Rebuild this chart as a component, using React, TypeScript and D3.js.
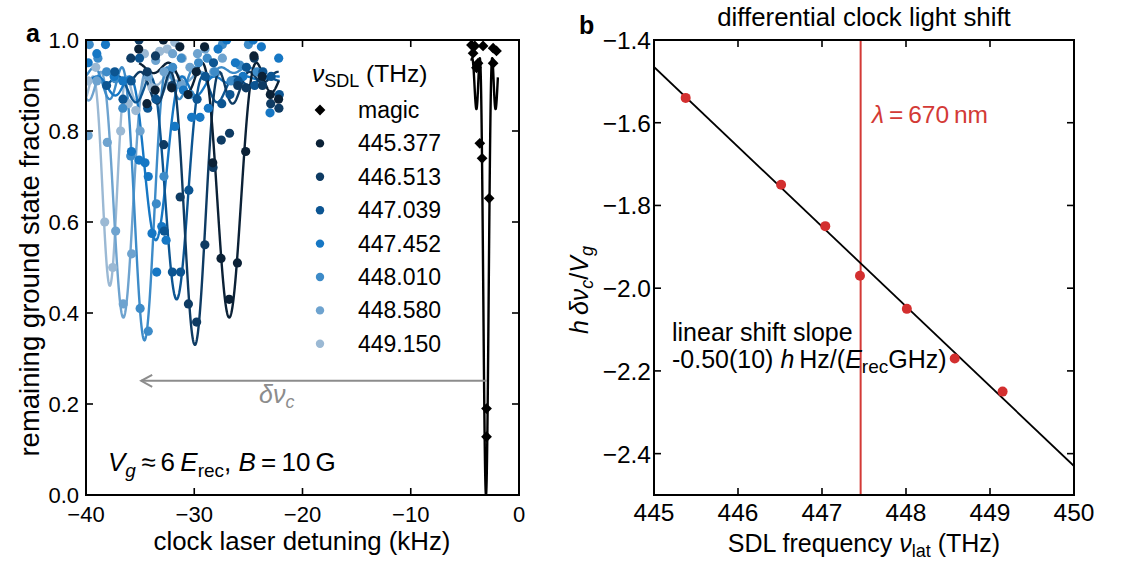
import React from "react";
import * as d3 from "d3";

const FONT = "'Liberation Sans', Arial, Helvetica, sans-serif";

// ---------- Panel a data ----------
const sdlLabels = ["445.377", "446.513", "447.039", "447.452", "448.010", "448.580", "449.150"];
const seriesColors = ["#0b2136", "#0e3b63", "#0c5592", "#1677c4", "#3d8bc8", "#6ea3cf", "#9bb9d4"];

// Rabi fit parameters
const fitCenters = [-26.77, -29.94, -31.63, -33.55, -34.6, -36.55, -37.8];
const fitOmegas = [1.45, 1.3, 1.4, 1.4, 1.2, 1.2, 0.9];
const fitOffsets = [0.95, 0.93, 0.92, 0.92, 0.94, 0.93, 0.92];
const fitAmps = [0.56, 0.6, 0.49, 0.36, 0.6, 0.54, 0.46];
const fitRanges = [
  [-35.1, -22.2],
  [-35.9, -22.2],
  [-38.1, -22.1],
  [-40, -22.1],
  [-40, -24.2],
  [-40, -27.4],
  [-40, -30.8],
];

const s1x = [-35.13, -34.37, -33.61, -32.85, -32.09, -31.33, -30.57, -29.81, -29.05, -28.29, -27.53, -26.77, -26.01, -25.25, -24.49, -23.73, -22.97, -22.21];
const s1y = [0.98, 0.86, 0.89, 1.0, 0.895, 0.985, 0.88, 0.93, 0.985, 0.73, 0.52, 0.43, 0.51, 0.755, 0.965, 0.92, 0.88, 0.87];
const s2x = [-35.86, -35.1, -34.34, -33.58, -32.82, -32.06, -31.3, -30.54, -29.78, -29.02, -28.26, -27.5, -26.74, -25.98, -25.22, -24.46, -23.7, -22.94, -22.18];
const s2y = [0.96, 1.0, 0.93, 0.965, 0.77, 0.9, 0.655, 0.42, 0.38, 0.55, 0.72, 0.78, 0.795, 0.9, 0.895, 0.96, 0.9, 0.86, 0.85];
const s3x = [-38.1, -37.34, -36.58, -35.82, -35.06, -34.3, -33.54, -32.78, -32.02, -31.26, -30.5, -29.74, -28.98, -28.22, -27.46, -26.7, -25.94, -25.18, -24.42, -23.66, -22.9, -22.14];
const s3y = [0.9, 0.93, 0.87, 0.91, 0.96, 0.85, 0.87, 0.58, 0.49, 0.49, 0.67, 0.87, 0.92, 0.95, 0.86, 0.88, 0.91, 0.94, 0.9, 0.93, 0.92, 0.88];
const s4x = [-39.8, -39.0, -38.2, -37.4, -36.6, -35.8, -35.1, -34.55, -34.25, -33.9, -33.47, -33.0, -32.6, -31.8, -31.0, -30.24, -29.47, -28.7, -27.8, -27.0, -26.2, -25.5, -24.55, -23.8, -23.0, -22.2];
const s4y = [0.95, 0.97, 0.99, 0.92, 0.91, 0.755, 0.736, 0.73, 0.7, 0.575, 0.49, 0.59, 0.56, 0.81, 0.89, 0.83, 0.83, 0.85, 0.98, 1.0, 0.95, 0.92, 1.0, 0.985, 0.84, 0.96];
const s5x = [-39.7, -38.9, -38.1, -37.3, -36.6, -35.87, -35.0, -34.25, -33.5, -32.8, -32.0, -31.2, -30.4, -29.6, -28.8, -28.1, -27.4, -26.6, -25.8, -25.0, -24.2];
const s5y = [0.99, 0.96, 0.93, 0.915, 0.85, 0.745, 0.41, 0.36, 0.64, 0.7, 0.94, 0.96, 0.88, 0.95, 0.96, 0.93, 0.99, 0.91, 0.945, 0.99, 0.93];
const s6x = [-39.8, -39.0, -38.03, -37.26, -36.56, -35.78, -35.0, -34.25, -33.56, -32.8, -32.0, -31.2, -30.4, -29.7, -29.0, -28.2, -27.4];
const s6y = [0.79, 0.91, 0.775, 0.58, 0.42, 0.53, 0.8, 0.92, 0.955, 0.93, 0.97, 0.9, 0.94, 0.97, 0.98, 0.93, 0.96];
const s7x = [-39.8, -39.1, -38.27, -37.53, -36.8, -36.1, -35.4, -34.6, -33.9, -33.2, -32.5, -31.8, -31.1];
const s7y = [0.91, 0.94, 0.6, 0.5, 0.8, 0.86, 0.845, 0.97, 0.895, 0.975, 0.98, 0.995, 0.96];

const seriesX = [s1x, s2x, s3x, s4x, s5x, s6x, s7x];
const seriesY = [s1y, s2y, s3y, s4y, s5y, s6y, s7y];

const magicX = [-4.39, -4.24, -4.08, -3.93, -3.78, -3.62, -3.41, -3.32, -3.0, -3.0, -2.76, -2.39, -2.39, -2.08];
const magicY = [0.989, 0.971, 0.987, 0.939, 0.949, 0.773, 0.74, 0.987, 0.19, 0.128, 0.652, 0.949, 0.982, 0.976];
const magicFit = { center: -3.05, omega: 0.33, offset: 0.96, amp: 0.96, range: [-4.4, -1.95] };

const arrowFrom = [-2.97, 0.251];
const arrowTo = [-34.9, 0.251];

const xTicksA = [-40, -30, -20, -10, 0];
const xTickLabelsA = ["\u221240", "\u221230", "\u221220", "\u221210", "0"];
const yTicksA = [0, 0.2, 0.4, 0.6, 0.8, 1.0];
const yTickLabelsA = ["0.0", "0.2", "0.4", "0.6", "0.8", "1.0"];

// ---------- Panel b data ----------
const sdlFreq = [445.377, 446.513, 447.039, 447.452, 448.01, 448.58, 449.15];
const shiftVals = [-1.54, -1.75, -1.85, -1.97, -2.05, -2.17, -2.25];
const fitLine = [
  [445, -1.465],
  [450, -2.43],
];
const lambda670 = 447.46;
const xTicksB = [445, 446, 447, 448, 449, 450];
const yTicksB = [-1.4, -1.6, -1.8, -2.0, -2.2, -2.4];
const yTickLabelsB = ["\u22121.4", "\u22121.6", "\u22121.8", "\u22122.0", "\u22122.2", "\u22122.4"];

function rabi(x: number, c: number, om: number, off: number, amp: number) {
  const u = (x - c) / om;
  const s = Math.sqrt(1 + u * u);
  const v = Math.sin((Math.PI / 2) * s);
  return off - (amp * v * v) / (s * s);
}

function sample(lo: number, hi: number, n: number) {
  return d3.range(n + 1).map((i) => lo + ((hi - lo) * i) / n);
}

export default function App() {
  const xA = d3.scaleLinear().domain([-40, 0]).range([86, 519]);
  const yA = d3.scaleLinear().domain([0, 1]).range([495, 40]);
  const xB = d3.scaleLinear().domain([445, 450]).range([654, 1074]);
  const yB = d3.scaleLinear().domain([-2.5, -1.4]).range([495, 40]);

  const lineA = d3
    .line<[number, number]>()
    .x((d) => xA(d[0]))
    .y((d) => yA(d[1]));
  const lineB = d3
    .line<number[]>()
    .x((d) => xB(d[0]))
    .y((d) => yB(d[1]));

  const curves = fitCenters.map((c, i) => {
    const [lo, hi] = fitRanges[i];
    const pts = sample(lo, hi, 500).map((x) => [x, rabi(x, c, fitOmegas[i], fitOffsets[i], fitAmps[i])] as [number, number]);
    return lineA(pts) as string;
  });
  const magicCurve = lineA(
    sample(magicFit.range[0], magicFit.range[1], 1200).map(
      (x) => [x, rabi(x, magicFit.center, magicFit.omega, magicFit.offset, magicFit.amp)] as [number, number]
    )
  ) as string;

  const diamond = d3.symbol().type(d3.symbolSquare).size(58)() as string;

  const tickLen = 7;
  const [ax0, ax1] = xA.range();
  const [ay1, ay0] = yA.range();
  const [bx0, bx1] = xB.range();
  const [by1, by0] = yB.range();

  const legendY = (i: number) => 110 + 33.4 * i;

  return (
    <svg width={1121} height={563} style={{ position: "absolute", left: 0, top: 0, background: "#fff" }} fontFamily={FONT}>
      <defs>
        <clipPath id="clipA">
          <rect x={ax0} y={ay0} width={ax1 - ax0} height={ay1 - ay0} />
        </clipPath>
        <clipPath id="clipB">
          <rect x={bx0} y={by0} width={bx1 - bx0} height={by1 - by0} />
        </clipPath>
      </defs>
      <rect x={0} y={0} width={1121} height={563} fill="#fff" />

      {/* ===== Panel a ===== */}
      <g clipPath="url(#clipA)">
        {curves
          .map((d, i) => ({ d, i }))
          .reverse()
          .map(({ d, i }) => (
            <path key={"c" + i} d={d} fill="none" stroke={seriesColors[i]} strokeWidth={2.4} />
          ))}
        {seriesX
          .map((xs, i) => ({ xs, i }))
          .reverse()
          .map(({ xs, i }) =>
            xs.map((x, j) => (
              <circle key={"p" + i + "-" + j} cx={xA(x)} cy={yA(seriesY[i][j])} r={4.6} fill={seriesColors[i]} />
            ))
          )}
        <path d={magicCurve} fill="none" stroke="#000" strokeWidth={2.4} />
        {magicX.map((x, j) => (
          <path key={"m" + j} d={diamond} transform={`translate(${xA(x)},${yA(magicY[j])}) rotate(45)`} fill="#000" />
        ))}
      </g>

      {/* arrow */}
      <line x1={xA(arrowFrom[0])} y1={yA(arrowFrom[1])} x2={xA(arrowTo[0])} y2={yA(arrowTo[1])} stroke="#8c8c8c" strokeWidth={2} />
      <polyline
        points={`${xA(arrowTo[0]) + 11},${yA(arrowTo[1]) - 6} ${xA(arrowTo[0])},${yA(arrowTo[1])} ${xA(arrowTo[0]) + 11},${yA(arrowTo[1]) + 6}`}
        fill="none"
        stroke="#8c8c8c"
        strokeWidth={2}
      />
      <text x={259} y={403} fontSize={25} fill="#8c8c8c" fontStyle="italic">
        δν<tspan fontSize={18} dy={5}>c</tspan>
      </text>

      {/* frame a */}
      <rect x={ax0} y={ay0} width={ax1 - ax0} height={ay1 - ay0} fill="none" stroke="#000" strokeWidth={2} />
      {xTicksA.map((t, i) => (
        <g key={"xta" + i}>
          <line x1={xA(t)} x2={xA(t)} y1={ay1} y2={ay1 - tickLen} stroke="#000" strokeWidth={1.6} />
          <line x1={xA(t)} x2={xA(t)} y1={ay0} y2={ay0 + tickLen} stroke="#000" strokeWidth={1.6} />
          <text x={xA(t)} y={522} fontSize={22} textAnchor="middle">
            {xTickLabelsA[i]}
          </text>
        </g>
      ))}
      {yTicksA.map((t, i) => (
        <g key={"yta" + i}>
          <line x1={ax0} x2={ax0 + tickLen} y1={yA(t)} y2={yA(t)} stroke="#000" strokeWidth={1.6} />
          <line x1={ax1} x2={ax1 - tickLen} y1={yA(t)} y2={yA(t)} stroke="#000" strokeWidth={1.6} />
          <text x={79} y={yA(t) + 8} fontSize={22} textAnchor="end">
            {yTickLabelsA[i]}
          </text>
        </g>
      ))}
      <text x={302} y={550} fontSize={25.8} textAnchor="middle">
        clock laser detuning (kHz)
      </text>
      <text transform="translate(39,267) rotate(-90)" fontSize={27.5} textAnchor="middle">
        remaining ground state fraction
      </text>
      <text x={26} y={42} fontSize={25} fontWeight="bold">
        a
      </text>
      <text x={108} y={471} fontSize={26}>
        <tspan fontStyle="italic">V</tspan>
        <tspan fontStyle="italic" fontSize={19} dy={6}>g</tspan>
        <tspan dy={-6}>{"\u2009\u2248\u20096\u2009"}</tspan>
        <tspan fontStyle="italic">E</tspan>
        <tspan fontSize={19} dy={6}>rec</tspan>
        <tspan dy={-6}>, </tspan>
        <tspan fontStyle="italic">B</tspan>
        <tspan>{"\u2009=\u200910\u2009G"}</tspan>
      </text>

      {/* legend */}
      <text x={312} y={82} fontSize={24.5}>
        <tspan fontStyle="italic">ν</tspan>
        <tspan fontSize={18} dy={5}>SDL</tspan>
        <tspan dy={-5}> (THz)</tspan>
      </text>
      <path d={diamond} transform={`translate(320,${legendY(0)}) rotate(45)`} fill="#000" />
      <text x={358} y={legendY(0) + 8} fontSize={23}>
        magic
      </text>
      {sdlLabels.map((lab, i) => (
        <g key={"lg" + i}>
          <circle cx={320} cy={legendY(i + 1)} r={4.2} fill={seriesColors[i]} />
          <text x={358} y={legendY(i + 1) + 8} fontSize={23}>
            {lab}
          </text>
        </g>
      ))}

      {/* ===== Panel b ===== */}
      <g clipPath="url(#clipB)">
        <line x1={xB(lambda670)} x2={xB(lambda670)} y1={by0} y2={by1} stroke="#d33a36" strokeWidth={2} />
        <path d={lineB(fitLine) as string} stroke="#000" strokeWidth={1.8} fill="none" />
        {sdlFreq.map((f, i) => (
          <circle key={"b" + i} cx={xB(f)} cy={yB(shiftVals[i])} r={5} fill="#d32f2f" />
        ))}
      </g>
      <rect x={bx0} y={by0} width={bx1 - bx0} height={by1 - by0} fill="none" stroke="#000" strokeWidth={2} />
      {xTicksB.map((t, i) => (
        <g key={"xtb" + i}>
          <line x1={xB(t)} x2={xB(t)} y1={by1} y2={by1 - tickLen} stroke="#000" strokeWidth={1.6} />
          <line x1={xB(t)} x2={xB(t)} y1={by0} y2={by0 + tickLen} stroke="#000" strokeWidth={1.6} />
          <text x={xB(t)} y={521} fontSize={24.5} textAnchor="middle">
            {t}
          </text>
        </g>
      ))}
      {yTicksB.map((t, i) => (
        <g key={"ytb" + i}>
          <line x1={bx0} x2={bx0 + tickLen} y1={yB(t)} y2={yB(t)} stroke="#000" strokeWidth={1.6} />
          <line x1={bx1} x2={bx1 - tickLen} y1={yB(t)} y2={yB(t)} stroke="#000" strokeWidth={1.6} />
          <text x={651} y={yB(t) + 9} fontSize={24.5} textAnchor="end">
            {yTickLabelsB[i]}
          </text>
        </g>
      ))}
      <text x={864} y={26} fontSize={25.8} textAnchor="middle">
        differential clock light shift
      </text>
      <text x={579} y={34} fontSize={25} fontWeight="bold">
        b
      </text>
      <text x={872} y={123} fontSize={24.5} fill="#d33a36">
        <tspan fontStyle="italic">λ</tspan>
        <tspan>{"\u2009=\u2009670\u2009nm"}</tspan>
      </text>
      <text x={672} y={341} fontSize={25} >
        linear shift slope
      </text>
      <text x={672} y={368} fontSize={25}>
        <tspan>-0.50(10) </tspan>
        <tspan fontStyle="italic">h</tspan>
        <tspan>{"\u2009Hz/("}</tspan>
        <tspan fontStyle="italic">E</tspan>
        <tspan fontSize={19} dy={5}>rec</tspan>
        <tspan dy={-5}>GHz)</tspan>
      </text>
      <text x={864} y={552} fontSize={25} textAnchor="middle">
        <tspan>SDL frequency </tspan>
        <tspan fontStyle="italic">ν</tspan>
        <tspan fontSize={18} dy={5}>lat</tspan>
        <tspan dy={-5}> (THz)</tspan>
      </text>
      <text transform="translate(588,290) rotate(-90)" fontSize={25} textAnchor="middle">
        <tspan fontStyle="italic">h</tspan>
        <tspan fontStyle="italic">{"\u2009δν"}</tspan>
        <tspan fontStyle="italic" fontSize={18} dy={5}>c</tspan>
        <tspan dy={-5}>/</tspan>
        <tspan fontStyle="italic">V</tspan>
        <tspan fontStyle="italic" fontSize={18} dy={5}>g</tspan>
      </text>
    </svg>
  );
}
